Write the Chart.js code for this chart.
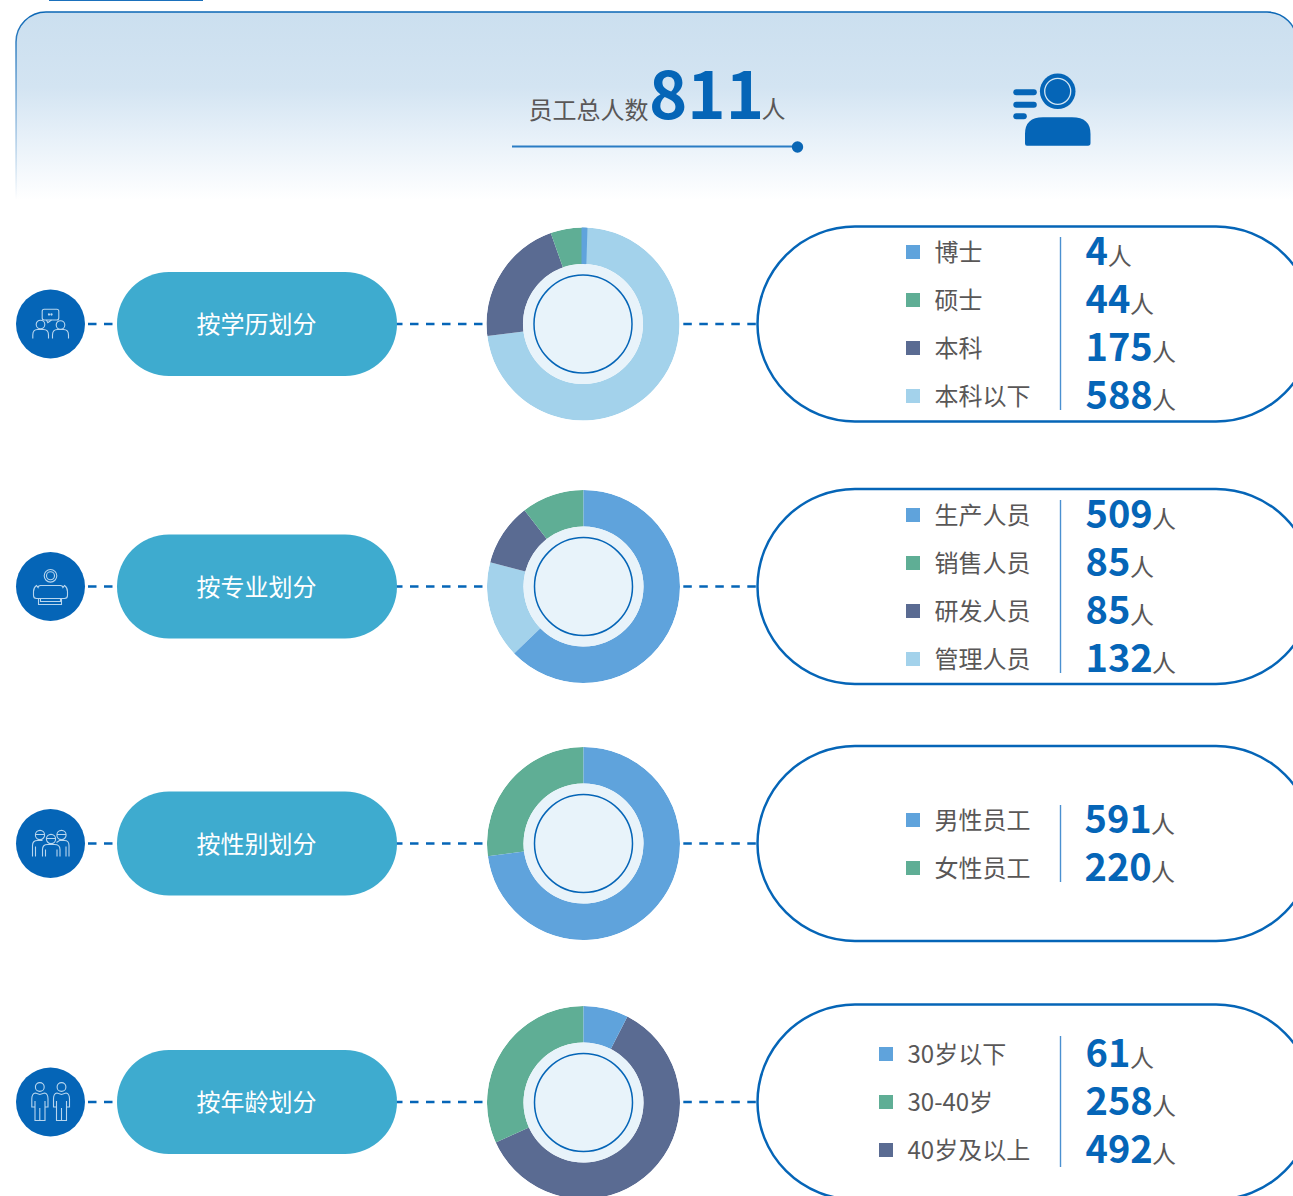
<!DOCTYPE html>
<html lang="zh"><head><meta charset="utf-8">
<script src="https://cdn.jsdelivr.net/npm/chart.js@4"></script>
<style>
html,body{margin:0;padding:0;background:#fff;width:1293px;height:1196px;overflow:hidden}
#stage{position:relative;width:1293px;height:1196px;overflow:hidden;font-family:"Noto Sans CJK SC","Noto Sans",sans-serif}
svg{position:absolute;left:0;top:0}
canvas{position:absolute}
</style></head><body>
<div id="stage">
<svg id="bg" width="1293" height="1196" xmlns="http://www.w3.org/2000/svg">
<defs>
<linearGradient id="panel" x1="0" y1="12" x2="0" y2="200" gradientUnits="userSpaceOnUse">
<stop offset="0" stop-color="#cbdfef"/><stop offset="0.4" stop-color="#d3e4f2"/><stop offset="0.68" stop-color="#e8f1f9"/><stop offset="1" stop-color="#ffffff"/>
</linearGradient>
<linearGradient id="edge" x1="0" y1="12" x2="0" y2="200" gradientUnits="userSpaceOnUse">
<stop offset="0" stop-color="#0a66b5"/><stop offset="0.35" stop-color="#0a66b5" stop-opacity=".6"/><stop offset="1" stop-color="#0a66b5" stop-opacity="0"/>
</linearGradient>
</defs>
<rect x="49" y="-1" width="154" height="2" fill="#1a70bc"/>
<path d="M16 200 V42 A30 30 0 0 1 46 12 H1267 A30 30 0 0 1 1297 42 V200 Z" fill="url(#panel)"/>
<path d="M16 200 V42 A30 30 0 0 1 46 12 H1267 A30 30 0 0 1 1297 42 V200" fill="none" stroke="url(#edge)" stroke-width="1.5"/>
<line x1="512" y1="146.5" x2="797" y2="146.5" stroke="#2a7cc4" stroke-width="1.8"/>
<circle cx="797.5" cy="147" r="5.7" fill="#0a66b5"/>
<g fill="#0565b7">
<circle cx="1057.7" cy="91.3" r="17.8"/>
<path d="M1025 145.700 V134 Q1025 117.300 1043 117.300 H1072 Q1090.500 117.300 1090.500 134 V143 Q1090.500 145.700 1088 145.700 H1027 Q1025 145.700 1025 143.500 Z"/>
<rect x="1013.3" y="89.3" width="23.5" height="6" rx="3"/>
<rect x="1013.3" y="101.7" width="23.5" height="6" rx="3"/>
<rect x="1013.3" y="113.3" width="13.5" height="6" rx="3"/>
</g>
<circle cx="1057.7" cy="91.3" r="13" fill="none" stroke="#d4e6f3" stroke-width="1.3"/>
</svg>
<svg id="fg" width="1293" height="1196" xmlns="http://www.w3.org/2000/svg"></svg>
</div>
<script>
// ---- data ----
const totalLabel = "员工总人数";
const totalValue = 811;
const unit = "人";

const groupTitles = ["按学历划分", "按专业划分", "按性别划分", "按年龄划分"];

const educationLabels = ["博士", "硕士", "本科", "本科以下"];
const educationValues = [4, 44, 175, 588];
const educationColors = ["#5fa3dc", "#5fae95", "#5a6b92", "#a3d2eb"];

const majorLabels = ["生产人员", "销售人员", "研发人员", "管理人员"];
const majorValues = [509, 85, 85, 132];
const majorColors = ["#5fa3dc", "#5fae95", "#5a6b92", "#a3d2eb"];

const genderLabels = ["男性员工", "女性员工"];
const genderValues = [591, 220];
const genderColors = ["#5fa3dc", "#5fae95"];

const ageLabels = ["30岁以下", "30-40岁", "40岁及以上"];
const ageValues = [61, 258, 492];
const ageColors = ["#5fa3dc", "#5fae95", "#5a6b92"];

// ---- layout ----
const rows = [
 {labels:educationLabels, values:educationValues, colors:educationColors, cy:324, pillTop:226.5, rowYs:[252,300,348,396], divider:[237,410], swatchX:906, textX:934.5, valueX:1085.5, icon:"a", firstSliceBorder:3},
 {labels:majorLabels, values:majorValues, colors:majorColors, cy:586.5, pillTop:489, rowYs:[515,563,611,659], divider:[500,673], swatchX:906, textX:934.5, valueX:1085.5, icon:"b", firstSliceBorder:0},
 {labels:genderLabels, values:genderValues, colors:genderColors, cy:843.5, pillTop:746, rowYs:[820,868], divider:[805,882], swatchX:906, textX:934.5, valueX:1084.5, icon:"c", firstSliceBorder:0},
 {labels:ageLabels, values:ageValues, colors:ageColors, cy:1102, pillTop:1004.5, rowYs:[1054,1102,1150], divider:[1036,1167], swatchX:879, textX:907.5, valueX:1085.5, icon:"d", firstSliceBorder:0}
];

const BLUE = "#0565b7", GREY = "#595757";
const icons = {
 a:`<rect x="-8.3" y="-14.7" width="16.6" height="10.7" rx="2"/><path d="M-4-4 L-2.7-1.3 L1-4"/><circle cx="-10" cy="0.5" r="4.3"/><circle cx="10" cy="1" r="4.3"/><path d="M-17.7 14.5 V11 Q-17.7 5.500 -13 5.500 H-7 Q-2 5.500 -2 11 V14.500"/><path d="M2 14.500 V11 Q2 5.500 7 5.500 H13 Q18 5.500 18 11 V14.500"/><circle cx="-1.500" cy="-9.500" r=".6"/><circle cx="1" cy="-9.500" r=".6"/>`,
 b:`<circle cx="0" cy="-10.700" r="6.300"/><circle cx="0" cy="-10.700" r="4"/><path d="M-10-1 H10 Q12-1 12.500 1 L14-1 Q17 1 17 5 V9 Q17 12 14 12 H-14 Q-17 12 -17 9 V5 Q-17 1 -14-1 L-12.500 1 Q-12-1 -10-1"/><path d="M-12 12 V18 H11 V12"/><path d="M-10 12 V15 H10 V12"/>`,
 c:`<circle cx="-10.500" cy="-8.500" r="4.600"/><circle cx="0.500" cy="-4.500" r="4.600"/><circle cx="11" cy="-8.500" r="4.600"/><path d="M-18 13 V2 Q-18-3 -13-3 H-8"/><path d="M-15 13 V3"/><path d="M18.500 13 V2 Q18.500-3 14-3 H9 L6-1"/><path d="M15.500 13 V3"/><path d="M-8 13 V6 Q-8 1 -3 1 H4 Q9.500 1 9.500 6 V13"/><path d="M-5 13 V6 M6.500 13 V6"/><path d="M-15-9 H-6 M-4-5 H5 M6.500-9 H15.500"/>`,
 d:`<circle cx="-10.700" cy="-15" r="4.400"/><circle cx="11" cy="-15" r="4.400"/><path d="M-18.700-3 Q-18.700-8.500 -15-9 L-10.700-7.500 L-6-9 Q-2.500-8.500 -2.500-3 V5 H-5.500 V-1 M-5.500 5 V18.500 H-15.500 V5 M-15.500-1 V5 H-18.700 V-3"/><path d="M-10.700 6 V18.500"/><path d="M3-3 Q3-8.500 6.500-9 L11-7.500 L15.500-9 Q19-8.500 19-3 V5 H16 V-1 M16 5 V18.500 H6 V5 M6-1 V5 H3 V-3"/><path d="M11 6 V18.500"/>`
};

// ---- decoration and text ----
const fg = document.getElementById("fg");
let s = "";
const txt = (x,y,t,size,color,w,anchor) => `<text x="${x}" y="${y}" font-size="${size}" fill="${color}" font-weight="${w||400}" text-anchor="${anchor||"start"}">${t}</text>`;

s += txt(528.5,119,totalLabel,24,GREY);
s += txt(649,118.5,totalValue,65,BLUE,700);
s += txt(761.5,118,unit,24,GREY);

rows.forEach((r,i)=>{
  const cy = r.cy;
  const dash = `stroke="${BLUE}" stroke-width="2.5" stroke-dasharray="8.500 7.500"`;
  s += `<line x1="88" y1="${cy}" x2="113" y2="${cy}" ${dash}/>`;
  s += `<line x1="394" y1="${cy}" x2="485" y2="${cy}" ${dash}/>`;
  s += `<line x1="683.300" y1="${cy}" x2="757" y2="${cy}" ${dash}/>`;
  s += `<circle cx="50.500" cy="${cy}" r="34.500" fill="${BLUE}"/>`;
  s += `<g transform="translate(50.500 ${cy})" fill="none" stroke="#b8d6ee" stroke-width="1.100">${icons[r.icon]}</g>`;
  s += `<rect x="117" y="${cy-52}" width="280" height="104" rx="52" fill="#3eabcf"/>`;
  s += txt(256.500,cy+9,groupTitles[i],24,"#ffffff",400,"middle");
  s += `<rect x="757.500" y="${r.pillTop}" width="556" height="195" rx="97.500" fill="#fff" stroke="${BLUE}" stroke-width="2.500"/>`;
  s += `<line x1="1060.500" y1="${r.divider[0]}" x2="1060.500" y2="${r.divider[1]}" stroke="#4a90d0" stroke-width="1.400"/>`;
  r.labels.forEach((lab,j)=>{
    const y = r.rowYs[j];
    s += `<rect x="${r.swatchX}" y="${y-7}" width="14" height="14" fill="${r.colors[j]}"/>`;
    s += txt(r.textX,y+9,lab,24,GREY);
    const v = String(r.values[j]);
    s += txt(r.valueX,y+13.300,v,38,BLUE,700);
    s += txt(r.valueX+v.length*22.200,y+13,unit,24,GREY);
  });
});
fg.innerHTML = s;

// ---- doughnuts ----
const ringClip = {
  id:"ringClip",
  beforeDatasetsDraw(c){
    const a = c.getDatasetMeta(0).data[0], ctx = c.ctx;
    ctx.save();
    ctx.beginPath(); ctx.arc(a.x,a.y,a.outerRadius,0,Math.PI*2); ctx.clip();
  },
  afterDatasetsDraw(c){
    const a = c.getDatasetMeta(0).data[0], ctx = c.ctx;
    ctx.restore();
    ctx.save();
    ctx.beginPath(); ctx.arc(a.x,a.y,a.innerRadius,0,Math.PI*2); ctx.fillStyle="#e8f3fa"; ctx.fill();
    ctx.beginPath(); ctx.arc(a.x,a.y,49,0,Math.PI*2); ctx.strokeStyle=BLUE; ctx.lineWidth=1.500; ctx.stroke();
    ctx.restore();
  }
};
const stage = document.getElementById("stage");
rows.forEach(r=>{
  const cv = document.createElement("canvas");
  const size = 192.600 + r.firstSliceBorder;
  const px = Math.round(size);
  cv.width = px; cv.height = px;
  cv.style.left = (583.200-px/2)+"px";
  cv.style.top = (r.cy-px/2)+"px";
  cv.style.width = px+"px"; cv.style.height = px+"px";
  stage.appendChild(cv);
  // clockwise from 12 o'clock the slices run: first entry, then the others in reverse.
  // The list starts at the second slice so the first entry is painted last, on top.
  const clockwise = [0,...r.values.map((_,k)=>k).slice(1).reverse()];
  const order = [...clockwise.slice(1),0];
  const total = r.values.reduce((a,b)=>a+b,0);
  new Chart(cv,{
    type:"doughnut",
    data:{labels:order.map(k=>r.labels[k]),
      datasets:[{data:order.map(k=>r.values[k]),
        backgroundColor:order.map(k=>r.colors[k]),
        borderColor:order.map(k=>r.colors[k]),
        borderWidth:order.map(k=>k===0?r.firstSliceBorder:0),
        hoverOffset:0}]},
    options:{responsive:false,animation:false,cutout:60,
      rotation:r.values[0]/total*360,
      layout:{padding:0},
      plugins:{legend:{display:false},tooltip:{enabled:false}}},
    plugins:[ringClip]
  });
});
</script>
</body></html>
